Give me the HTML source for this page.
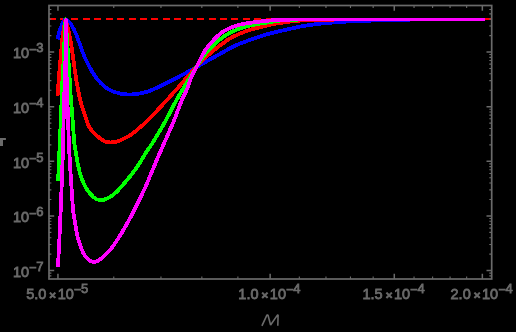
<!DOCTYPE html>
<html><head><meta charset="utf-8"><title>plot</title><style>html,body{margin:0;padding:0;background:#000;}body{width:516px;height:332px;overflow:hidden;font-family:"Liberation Sans",sans-serif;}</style></head><body>
<svg width="516" height="332" viewBox="0 0 516 332" style="display:block;will-change:transform">
<rect width="516" height="332" fill="#000"/>
<path d="M48.6 19H491" stroke="#ff0000" stroke-width="2" stroke-dasharray="7 4.43" fill="none" shape-rendering="crispEdges"/>
<rect x="484" y="18" width="7" height="2" fill="#ff0000" shape-rendering="crispEdges"/>
<path d="M57.70 39.40 C57.80 38.83 57.93 37.55 58.30 36.00 C58.67 34.45 59.23 32.08 59.90 30.10 C60.57 28.12 61.62 25.65 62.30 24.10 C62.98 22.55 63.47 21.60 64.00 20.80 C64.53 20.00 64.97 19.38 65.50 19.30 C66.03 19.22 66.65 19.92 67.20 20.30 C67.75 20.68 68.10 20.85 68.80 21.60 C69.50 22.35 70.55 23.48 71.40 24.80 C72.25 26.12 73.13 27.97 73.90 29.50 C74.67 31.03 75.15 31.92 76.00 34.00 C76.85 36.08 78.02 39.33 79.00 42.00 C79.98 44.67 81.10 47.83 81.90 50.00 C82.70 52.17 83.05 53.17 83.80 55.00 C84.55 56.83 85.50 59.08 86.40 61.00 C87.30 62.92 88.25 64.75 89.20 66.50 C90.15 68.25 91.08 69.83 92.10 71.50 C93.12 73.17 94.17 74.92 95.30 76.50 C96.43 78.08 97.70 79.62 98.90 81.00 C100.10 82.38 101.15 83.58 102.50 84.80 C103.85 86.02 105.47 87.28 107.00 88.30 C108.53 89.32 110.12 90.20 111.70 90.90 C113.28 91.60 114.83 92.00 116.50 92.50 C118.17 93.00 119.78 93.57 121.70 93.90 C123.62 94.23 125.95 94.43 128.00 94.50 C130.05 94.57 132.00 94.48 134.00 94.30 C136.00 94.12 137.72 93.85 140.00 93.40 C142.28 92.95 145.03 92.47 147.70 91.60 C150.37 90.73 153.23 89.43 156.00 88.20 C158.77 86.97 160.13 86.30 164.30 84.20 C168.47 82.10 175.58 78.47 181.00 75.60 C186.42 72.73 191.97 69.70 196.80 67.00 C201.63 64.30 205.85 61.73 210.00 59.40 C214.15 57.07 218.37 54.85 221.70 53.00 C225.03 51.15 227.23 49.75 230.00 48.30 C232.77 46.85 235.52 45.50 238.30 44.30 C241.08 43.10 243.92 42.13 246.70 41.10 C249.48 40.07 250.83 39.45 255.00 38.10 C259.17 36.75 266.70 34.35 271.70 33.00 C276.70 31.65 281.12 30.88 285.00 30.00 C288.88 29.12 291.67 28.42 295.00 27.70 C298.33 26.98 301.12 26.33 305.00 25.70 C308.88 25.07 313.30 24.47 318.30 23.90 C323.30 23.33 329.43 22.73 335.00 22.30 C340.57 21.87 345.70 21.58 351.70 21.30 C357.70 21.02 364.62 20.79 371.00 20.60 C377.38 20.41 384.67 20.28 390.00 20.15 C395.33 20.02 399.00 19.90 403.00 19.80 C407.00 19.70 409.50 19.60 414.00 19.55 C418.50 19.50 424.00 19.51 430.00 19.50 C436.00 19.49 440.92 19.50 450.00 19.50 C459.08 19.50 478.75 19.50 484.50 19.50" stroke="#0000ff" stroke-width="3.80" fill="none" stroke-linejoin="round" stroke-linecap="butt" shape-rendering="crispEdges"/>
<path d="M57.50 96.00 C57.62 94.50 57.87 91.33 58.20 87.00 C58.53 82.67 59.05 75.33 59.50 70.00 C59.95 64.67 60.48 59.67 60.90 55.00 C61.32 50.33 61.60 45.83 62.00 42.00 C62.40 38.17 62.88 34.92 63.30 32.00 C63.72 29.08 64.12 26.58 64.50 24.50 C64.88 22.42 65.18 19.50 65.60 19.50 C66.02 19.50 66.47 22.42 67.00 24.50 C67.53 26.58 68.17 29.08 68.80 32.00 C69.43 34.92 70.13 38.17 70.80 42.00 C71.47 45.83 72.13 50.33 72.80 55.00 C73.47 59.67 74.27 66.17 74.80 70.00 C75.33 73.83 75.53 75.17 76.00 78.00 C76.47 80.83 76.90 83.33 77.60 87.00 C78.30 90.67 79.28 96.17 80.20 100.00 C81.12 103.83 82.10 106.83 83.10 110.00 C84.10 113.17 85.32 116.43 86.20 119.00 C87.08 121.57 87.68 123.77 88.40 125.40 C89.12 127.03 89.48 127.45 90.50 128.80 C91.52 130.15 92.92 131.92 94.50 133.50 C96.08 135.08 98.42 137.05 100.00 138.30 C101.58 139.55 102.83 140.38 104.00 141.00 C105.17 141.62 106.00 141.77 107.00 142.00 C108.00 142.23 109.00 142.35 110.00 142.40 C111.00 142.45 111.92 142.42 113.00 142.30 C114.08 142.18 115.33 142.00 116.50 141.70 C117.67 141.40 118.58 141.12 120.00 140.50 C121.42 139.88 123.17 138.98 125.00 138.00 C126.83 137.02 128.33 136.50 131.00 134.60 C133.67 132.70 136.83 130.40 141.00 126.60 C145.17 122.80 150.28 117.77 156.00 111.80 C161.72 105.83 170.30 96.35 175.30 90.80 C180.30 85.25 182.33 82.70 186.00 78.50 C189.67 74.30 194.13 69.02 197.30 65.60 C200.47 62.18 202.33 60.48 205.00 58.00 C207.67 55.52 210.52 53.00 213.30 50.70 C216.08 48.40 218.92 46.23 221.70 44.20 C224.48 42.17 227.23 40.15 230.00 38.50 C232.77 36.85 235.52 35.55 238.30 34.30 C241.08 33.05 243.92 31.97 246.70 31.00 C249.48 30.03 250.83 29.60 255.00 28.50 C259.17 27.40 266.70 25.43 271.70 24.40 C276.70 23.37 280.28 22.93 285.00 22.30 C289.72 21.67 294.45 20.98 300.00 20.60 C305.55 20.22 312.47 20.17 318.30 20.00 C324.13 19.83 326.22 19.68 335.00 19.60 C343.78 19.52 358.00 19.52 371.00 19.50 C384.00 19.48 394.08 19.50 413.00 19.50 C431.92 19.50 472.58 19.50 484.50 19.50" stroke="#ff0000" stroke-width="3.80" fill="none" stroke-linejoin="round" stroke-linecap="butt" shape-rendering="crispEdges"/>
<path d="M58.20 180.80 C58.32 177.33 58.62 166.47 58.90 160.00 C59.18 153.53 59.62 147.83 59.90 142.00 C60.18 136.17 60.38 130.33 60.60 125.00 C60.82 119.67 61.03 114.17 61.20 110.00 C61.37 105.83 61.45 103.83 61.60 100.00 C61.75 96.17 61.72 94.50 62.10 87.00 C62.48 79.50 63.47 63.67 63.90 55.00 C64.33 46.33 64.40 40.97 64.70 35.00 C65.00 29.03 65.37 19.20 65.70 19.20 C66.03 19.20 66.30 29.03 66.70 35.00 C67.10 40.97 67.52 46.33 68.10 55.00 C68.68 63.67 69.73 79.50 70.20 87.00 C70.67 94.50 70.62 96.17 70.90 100.00 C71.18 103.83 71.55 105.83 71.90 110.00 C72.25 114.17 72.62 119.67 73.00 125.00 C73.38 130.33 73.80 137.83 74.20 142.00 C74.60 146.17 74.82 146.45 75.40 150.00 C75.98 153.55 76.77 158.85 77.70 163.30 C78.63 167.75 79.58 172.53 81.00 176.70 C82.42 180.87 84.15 184.92 86.20 188.30 C88.25 191.68 91.00 195.02 93.30 197.00 C95.60 198.98 97.50 200.03 100.00 200.20 C102.50 200.37 105.57 199.37 108.30 198.00 C111.03 196.63 113.62 194.58 116.40 192.00 C119.18 189.42 121.70 186.45 125.00 182.50 C128.30 178.55 132.77 173.17 136.20 168.30 C139.63 163.43 142.57 158.02 145.60 153.30 C148.63 148.58 151.15 145.27 154.40 140.00 C157.65 134.73 161.72 127.82 165.10 121.70 C168.48 115.58 171.83 108.58 174.70 103.30 C177.57 98.02 178.53 96.28 182.30 90.00 C186.07 83.72 193.52 71.52 197.30 65.60 C201.08 59.68 202.33 57.85 205.00 54.50 C207.67 51.15 210.52 48.25 213.30 45.50 C216.08 42.75 218.92 40.12 221.70 38.00 C224.48 35.88 227.23 34.30 230.00 32.80 C232.77 31.30 235.52 30.08 238.30 29.00 C241.08 27.92 243.92 27.05 246.70 26.30 C249.48 25.55 250.83 25.25 255.00 24.50 C259.17 23.75 266.70 22.55 271.70 21.80 C276.70 21.05 280.28 20.37 285.00 20.00 C289.72 19.63 294.17 19.68 300.00 19.60 C305.83 19.52 308.17 19.52 320.00 19.50 C331.83 19.48 343.58 19.50 371.00 19.50 C398.42 19.50 465.58 19.50 484.50 19.50" stroke="#00ff00" stroke-width="3.80" fill="none" stroke-linejoin="round" stroke-linecap="butt" shape-rendering="crispEdges"/>
<path d="M58.00 266.70 C58.13 263.92 58.53 255.28 58.80 250.00 C59.07 244.72 59.25 242.50 59.60 235.00 C59.95 227.50 60.35 218.83 60.90 205.00 C61.45 191.17 62.45 166.17 62.90 152.00 C63.35 137.83 63.32 130.83 63.60 120.00 C63.88 109.17 64.27 97.83 64.60 87.00 C64.92 76.17 65.35 66.25 65.55 55.00 C65.75 43.75 65.70 19.50 65.80 19.50 C65.90 19.50 65.97 43.75 66.15 55.00 C66.33 66.25 66.58 76.17 66.90 87.00 C67.23 97.83 67.70 109.17 68.10 120.00 C68.50 130.83 68.53 137.83 69.30 152.00 C70.07 166.17 71.82 193.67 72.70 205.00 C73.58 216.33 73.82 214.83 74.60 220.00 C75.38 225.17 76.50 231.83 77.40 236.00 C78.30 240.17 78.97 242.08 80.00 245.00 C81.03 247.92 82.27 251.13 83.60 253.50 C84.93 255.87 86.37 257.78 88.00 259.20 C89.63 260.62 91.60 261.82 93.40 262.00 C95.20 262.18 96.73 261.55 98.80 260.30 C100.87 259.05 103.50 256.77 105.80 254.50 C108.10 252.23 109.83 250.50 112.60 246.70 C115.37 242.90 119.37 236.70 122.40 231.70 C125.43 226.70 128.15 221.70 130.80 216.70 C133.45 211.70 136.08 206.15 138.30 201.70 C140.52 197.25 142.30 193.90 144.10 190.00 C145.90 186.10 146.87 183.58 149.10 178.30 C151.33 173.02 154.77 164.68 157.50 158.30 C160.23 151.92 162.83 146.10 165.50 140.00 C168.17 133.90 170.77 128.37 173.50 121.70 C176.23 115.03 179.72 105.28 181.90 100.00 C184.08 94.72 184.95 94.00 186.60 90.00 C188.25 86.00 190.02 80.07 191.80 76.00 C193.58 71.93 195.10 69.82 197.30 65.60 C199.50 61.38 202.33 54.90 205.00 50.70 C207.67 46.50 210.52 43.42 213.30 40.40 C216.08 37.38 218.92 34.67 221.70 32.60 C224.48 30.53 227.23 29.27 230.00 28.00 C232.77 26.73 235.52 25.78 238.30 25.00 C241.08 24.22 243.92 23.77 246.70 23.30 C249.48 22.83 250.83 22.70 255.00 22.20 C259.17 21.70 266.70 20.72 271.70 20.30 C276.70 19.88 280.28 19.83 285.00 19.70 C289.72 19.57 292.50 19.53 300.00 19.50 C307.50 19.47 318.17 19.50 330.00 19.50 C341.83 19.50 345.25 19.50 371.00 19.50 C396.75 19.50 465.58 19.50 484.50 19.50" stroke="#ff00ff" stroke-width="3.80" fill="none" stroke-linejoin="round" stroke-linecap="butt" shape-rendering="crispEdges"/>
<rect x="49.00" y="5.50" width="442.70" height="273.50" fill="none" stroke="#6a6a6a" stroke-width="1.7"/>
<path d="M113.77 279.00v-2.40M113.77 5.50v2.40M160.96 279.00v-2.40M160.96 5.50v2.40M201.84 279.00v-2.40M201.84 5.50v2.40M237.89 279.00v-2.40M237.89 5.50v2.40M299.33 279.00v-2.40M299.33 5.50v2.40M325.97 279.00v-2.40M325.97 5.50v2.40M350.47 279.00v-2.40M350.47 5.50v2.40M373.16 279.00v-2.40M373.16 5.50v2.40M414.04 279.00v-2.40M414.04 5.50v2.40M432.60 279.00v-2.40M432.60 5.50v2.40M450.09 279.00v-2.40M450.09 5.50v2.40M466.65 279.00v-2.40M466.65 5.50v2.40M49.00 275.91h2.40M491.70 275.91h-2.40M49.00 273.11h2.40M491.70 273.11h-2.40M49.00 254.16h2.40M491.70 254.16h-2.40M49.00 244.54h2.40M491.70 244.54h-2.40M49.00 237.71h2.40M491.70 237.71h-2.40M49.00 232.42h2.40M491.70 232.42h-2.40M49.00 228.09h2.40M491.70 228.09h-2.40M49.00 224.43h2.40M491.70 224.43h-2.40M49.00 221.27h2.40M491.70 221.27h-2.40M49.00 218.47h2.40M491.70 218.47h-2.40M49.00 199.52h2.40M491.70 199.52h-2.40M49.00 189.90h2.40M491.70 189.90h-2.40M49.00 183.07h2.40M491.70 183.07h-2.40M49.00 177.78h2.40M491.70 177.78h-2.40M49.00 173.45h2.40M491.70 173.45h-2.40M49.00 169.79h2.40M491.70 169.79h-2.40M49.00 166.63h2.40M491.70 166.63h-2.40M49.00 163.83h2.40M491.70 163.83h-2.40M49.00 144.88h2.40M491.70 144.88h-2.40M49.00 135.26h2.40M491.70 135.26h-2.40M49.00 128.43h2.40M491.70 128.43h-2.40M49.00 123.14h2.40M491.70 123.14h-2.40M49.00 118.81h2.40M491.70 118.81h-2.40M49.00 115.15h2.40M491.70 115.15h-2.40M49.00 111.99h2.40M491.70 111.99h-2.40M49.00 109.19h2.40M491.70 109.19h-2.40M49.00 90.24h2.40M491.70 90.24h-2.40M49.00 80.62h2.40M491.70 80.62h-2.40M49.00 73.79h2.40M491.70 73.79h-2.40M49.00 68.50h2.40M491.70 68.50h-2.40M49.00 64.17h2.40M491.70 64.17h-2.40M49.00 60.51h2.40M491.70 60.51h-2.40M49.00 57.35h2.40M491.70 57.35h-2.40M49.00 54.55h2.40M491.70 54.55h-2.40M49.00 35.60h2.40M491.70 35.60h-2.40M49.00 25.98h2.40M491.70 25.98h-2.40M49.00 19.15h2.40M491.70 19.15h-2.40M49.00 13.86h2.40M491.70 13.86h-2.40M49.00 9.53h2.40M491.70 9.53h-2.40" stroke="#6a6a6a" stroke-width="1.1" fill="none"/>
<path d="M57.95 279.00v-5.20M57.95 5.50v5.20M270.15 279.00v-5.20M270.15 5.50v5.20M394.28 279.00v-5.20M394.28 5.50v5.20M482.35 279.00v-5.20M482.35 5.50v5.20M49.00 270.61h5.20M491.70 270.61h-5.20M49.00 215.97h5.20M491.70 215.97h-5.20M49.00 161.33h5.20M491.70 161.33h-5.20M49.00 106.69h5.20M491.70 106.69h-5.20M49.00 52.05h5.20M491.70 52.05h-5.20" stroke="#6a6a6a" stroke-width="1.5" fill="none"/>
<text x="57.25" y="299.30" font-family="Liberation Sans, sans-serif" font-size="14.5" fill="#6a6a6a" stroke="#6a6a6a" stroke-width="0.80" text-anchor="middle">5.0<tspan font-size="11.5" font-weight="bold" dx="3.0" dy="-0.4">×</tspan><tspan dx="1.6" dy="0.4">10</tspan><tspan font-size="12.5" dy="-4.9">−</tspan><tspan font-size="13.0" dy="-1.3">5</tspan></text>
<text x="269.45" y="299.30" font-family="Liberation Sans, sans-serif" font-size="14.5" fill="#6a6a6a" stroke="#6a6a6a" stroke-width="0.80" text-anchor="middle">1.0<tspan font-size="11.5" font-weight="bold" dx="3.0" dy="-0.4">×</tspan><tspan dx="1.6" dy="0.4">10</tspan><tspan font-size="12.5" dy="-4.9">−</tspan><tspan font-size="13.0" dy="-1.3">4</tspan></text>
<text x="393.58" y="299.30" font-family="Liberation Sans, sans-serif" font-size="14.5" fill="#6a6a6a" stroke="#6a6a6a" stroke-width="0.80" text-anchor="middle">1.5<tspan font-size="11.5" font-weight="bold" dx="3.0" dy="-0.4">×</tspan><tspan dx="1.6" dy="0.4">10</tspan><tspan font-size="12.5" dy="-4.9">−</tspan><tspan font-size="13.0" dy="-1.3">4</tspan></text>
<text x="481.65" y="299.30" font-family="Liberation Sans, sans-serif" font-size="14.5" fill="#6a6a6a" stroke="#6a6a6a" stroke-width="0.80" text-anchor="middle">2.0<tspan font-size="11.5" font-weight="bold" dx="3.0" dy="-0.4">×</tspan><tspan dx="1.6" dy="0.4">10</tspan><tspan font-size="12.5" dy="-4.9">−</tspan><tspan font-size="13.0" dy="-1.3">4</tspan></text>
<text x="43.60" y="276.91" font-family="Liberation Sans, sans-serif" font-size="14.5" fill="#6a6a6a" stroke="#6a6a6a" stroke-width="0.80" text-anchor="end">10<tspan font-size="12.5" dy="-4.7">−</tspan><tspan font-size="13.0" dy="-1.3">7</tspan></text>
<text x="43.60" y="222.27" font-family="Liberation Sans, sans-serif" font-size="14.5" fill="#6a6a6a" stroke="#6a6a6a" stroke-width="0.80" text-anchor="end">10<tspan font-size="12.5" dy="-4.7">−</tspan><tspan font-size="13.0" dy="-1.3">6</tspan></text>
<text x="43.60" y="167.63" font-family="Liberation Sans, sans-serif" font-size="14.5" fill="#6a6a6a" stroke="#6a6a6a" stroke-width="0.80" text-anchor="end">10<tspan font-size="12.5" dy="-4.7">−</tspan><tspan font-size="13.0" dy="-1.3">5</tspan></text>
<text x="43.60" y="112.99" font-family="Liberation Sans, sans-serif" font-size="14.5" fill="#6a6a6a" stroke="#6a6a6a" stroke-width="0.80" text-anchor="end">10<tspan font-size="12.5" dy="-4.7">−</tspan><tspan font-size="13.0" dy="-1.3">4</tspan></text>
<text x="43.60" y="58.35" font-family="Liberation Sans, sans-serif" font-size="14.5" fill="#6a6a6a" stroke="#6a6a6a" stroke-width="0.80" text-anchor="end">10<tspan font-size="12.5" dy="-4.7">−</tspan><tspan font-size="13.0" dy="-1.3">3</tspan></text>
<path d="M0 138h5.9v1.9H3v6.2H0z" fill="#6a6a6a"/>
<path d="M261.9 325.9L266.9 315.1L268 315.1L270.6 325L277.4 315.1L278.1 315.1L277.8 325.8" stroke="#6a6a6a" stroke-width="1.6" fill="none" stroke-linejoin="bevel"/>
</svg>
</body></html>
